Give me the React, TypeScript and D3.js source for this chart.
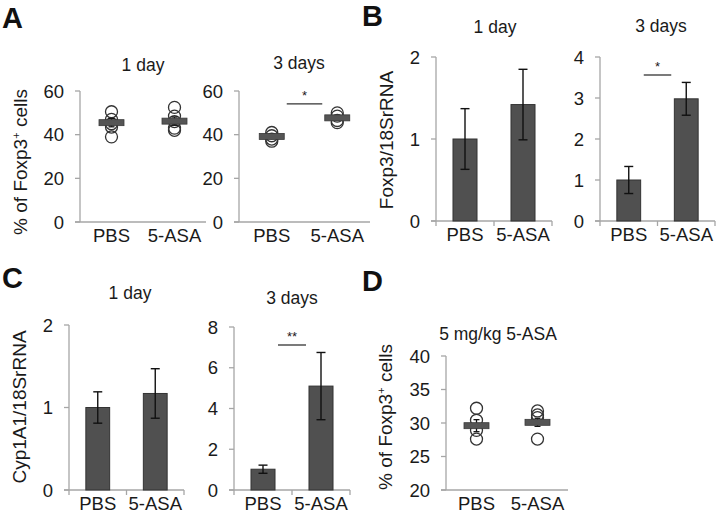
import React from 'react';
import * as d3 from 'd3';

const groups = ['PBS', '5-ASA'];

// Panel A (% Foxp3+ cells)
const a1Points = [[50.5, 47, 45, 43.5, 39], [52.5, 48.5, 46, 43, 42]];
const a1Means = [45.5, 46.2];
const a1Sem = [1.9, 1.9];
const a3Points = [[41, 39.5, 38, 37], [50, 48.5, 46.5, 45.5]];
const a3Means = [39.2, 47.7];
const a3Sem = [0.9, 1.0];
const ticksA = [0, 20, 40, 60];

// Panel B (Foxp3/18SrRNA)
const b1Means = [1.0, 1.42];
const b1Err = [0.37, 0.43];
const b3Means = [1.0, 2.98];
const b3Err = [0.33, 0.4];
const ticksB1 = [0, 1, 2];
const ticksB3 = [0, 1, 2, 3, 4];

// Panel C (Cyp1A1/18SrRNA)
const c1Means = [1.0, 1.17];
const c1Err = [0.19, 0.3];
const c3Means = [1.02, 5.1];
const c3Err = [0.2, 1.65];
const ticksC1 = [0, 1, 2];
const ticksC3 = [0, 2, 4, 6, 8];

// Panel D
const dPoints = [[32.2, 30.4, 28.9, 27.6], [31.8, 31.2, 30.8, 27.6]];
const dMeans = [29.6, 30.1];
const dSem = [0.9, 0.6];
const ticksD = [20, 25, 30, 35, 40];

const FONT = '"Liberation Sans", Arial, Helvetica, sans-serif';
const AXIS = '#a6a6a6';
const TXT = '#1a1a1a';

type PanelProps = {
  x0: number; x1: number; yTop: number; yBot: number;
  ticks: number[]; title: string; titleX: number; titleY: number;
  kind: 'bar' | 'dot';
  means: number[]; err: number[]; points?: number[][];
  sig?: string;
};

function Panel(p: PanelProps) {
  const y = d3.scaleLinear().domain([p.ticks[0], p.ticks[p.ticks.length - 1]]).range([p.yBot, p.yTop]);
  const x = d3.scaleBand<string>().domain(groups).range([p.x0, p.x1]).paddingInner(0.586).paddingOuter(0.293);
  const step = x.step();
  const cx = (g: string) => (x(g) as number) + x.bandwidth() / 2;
  const bw = x.bandwidth();
  const cap = 4.5;
  const boundaries = [p.x0, p.x0 + step, p.x1];
  return (
    <g>
      <line x1={p.x0} x2={p.x0} y1={p.yTop} y2={p.yBot} stroke={AXIS} strokeWidth={1.3} />
      <line x1={p.x0 - 5} x2={p.x1} y1={p.yBot} y2={p.yBot} stroke={AXIS} strokeWidth={1.3} />
      {p.ticks.map((t) => (
        <g key={t}>
          <line x1={p.x0 - 5} x2={p.x0} y1={y(t)} y2={y(t)} stroke={AXIS} strokeWidth={1.3} />
          <text x={p.x0 - 16} y={y(t)} dy="0.36em" textAnchor="end" fontSize={18.5} fill={TXT}>{t}</text>
        </g>
      ))}
      {p.kind === 'bar' && boundaries.map((b, i) => (
        <line key={i} x1={b} x2={b} y1={p.yBot} y2={p.yBot + 5} stroke={AXIS} strokeWidth={1.3} />
      ))}
      {groups.map((g) => (
        <text key={g} x={cx(g)} y={p.yBot + 20} textAnchor="middle" fontSize={18.5} fill={TXT}>{g}</text>
      ))}
      <text x={p.titleX} y={p.titleY} textAnchor="middle" fontSize={17.5} fill={TXT}>{p.title}</text>
      {p.kind === 'bar' && groups.map((g, i) => (
        <g key={g}>
          <rect x={x(g)} y={y(p.means[i])} width={bw} height={p.yBot - y(p.means[i])} fill="#505050" stroke="#333" strokeWidth={1} />
          <line x1={cx(g)} x2={cx(g)} y1={y(p.means[i] - p.err[i])} y2={y(p.means[i] + p.err[i])} stroke="#111" strokeWidth={1.4} />
          <line x1={cx(g) - cap} x2={cx(g) + cap} y1={y(p.means[i] - p.err[i])} y2={y(p.means[i] - p.err[i])} stroke="#111" strokeWidth={1.4} />
          <line x1={cx(g) - cap} x2={cx(g) + cap} y1={y(p.means[i] + p.err[i])} y2={y(p.means[i] + p.err[i])} stroke="#111" strokeWidth={1.4} />
        </g>
      ))}
      {p.kind === 'dot' && groups.map((g, i) => (
        <g key={g}>
          {(p.points as number[][])[i].map((v, j) => (
            <circle key={j} cx={cx(g)} cy={y(v)} r={6} fill="none" stroke="#333" strokeWidth={1.3} />
          ))}
          <line x1={cx(g)} x2={cx(g)} y1={y(p.means[i] - p.err[i])} y2={y(p.means[i] + p.err[i])} stroke="#111" strokeWidth={1.3} />
          <line x1={cx(g) - 3} x2={cx(g) + 3} y1={y(p.means[i] - p.err[i])} y2={y(p.means[i] - p.err[i])} stroke="#111" strokeWidth={1.3} />
          <line x1={cx(g) - 3} x2={cx(g) + 3} y1={y(p.means[i] + p.err[i])} y2={y(p.means[i] + p.err[i])} stroke="#111" strokeWidth={1.3} />
          <rect x={cx(g) - 12.5} y={y(p.means[i]) - 3} width={25} height={6} fill="#555" stroke="#3a3a3a" strokeWidth={0.8} />
        </g>
      ))}
      {p.sig && (() => {
        const top = Math.max(...p.means.map((m, i) => m + p.err[i]), ...(p.points ? p.points.flat() : []));
        const ly = p.kind === 'bar' ? y(p.ticks[p.ticks.length - 1]) + 18 : y(top) - 9;
        const lx0 = cx(groups[0]) + 15;
        const lx1 = cx(groups[1]) - 15;
        return (
          <g>
            <line x1={lx0} x2={lx1} y1={ly} y2={ly} stroke="#333" strokeWidth={1.3} />
            <text x={(lx0 + lx1) / 2} y={ly - 4} textAnchor="middle" fontSize={13} fill={TXT}>{p.sig}</text>
          </g>
        );
      })()}
    </g>
  );
}

function YLabel({ x, y, children }: { x: number; y: number; children: React.ReactNode }) {
  return (
    <text transform={`translate(${x},${y}) rotate(-90)`} textAnchor="middle" fontSize={19} fill={TXT}>{children}</text>
  );
}

export default function App() {
  return (
    <svg width={716} height={516} style={{ position: 'absolute', left: 0, top: 0, background: '#fff' }} fontFamily={FONT}>
      <rect width={716} height={516} fill="#fff" />
      <text x={2} y={28} fontSize={29} fontWeight="bold" fill="#111">A</text>
      <text x={362} y={26} fontSize={29} fontWeight="bold" fill="#111">B</text>
      <text x={2} y={288} fontSize={29} fontWeight="bold" fill="#111">C</text>
      <text x={362} y={291} fontSize={29} fontWeight="bold" fill="#111">D</text>

      <YLabel x={27} y={162}>
        <tspan>% of Foxp3</tspan><tspan dy={-7} fontSize={11}>+</tspan><tspan dy={7}> cells</tspan>
      </YLabel>
      <YLabel x={393} y={140}>Foxp3/18SrRNA</YLabel>
      <YLabel x={26} y={407}>Cyp1A1/18SrRNA</YLabel>
      <YLabel x={392} y={417}>
        <tspan>% of Foxp3</tspan><tspan dy={-7} fontSize={11}>+</tspan><tspan dy={7}> cells</tspan>
      </YLabel>

      <Panel x0={80} x1={206} yTop={91} yBot={222} ticks={ticksA} title="1 day" titleX={143} titleY={71}
        kind="dot" means={a1Means} err={a1Sem} points={a1Points} />
      <Panel x0={239} x1={370} yTop={91} yBot={222} ticks={ticksA} title="3 days" titleX={299} titleY={69}
        kind="dot" means={a3Means} err={a3Sem} points={a3Points} sig="*" />
      <Panel x0={436} x1={552} yTop={57} yBot={221} ticks={ticksB1} title="1 day" titleX={495} titleY={33}
        kind="bar" means={b1Means} err={b1Err} />
      <Panel x0={600} x1={715} yTop={57} yBot={221} ticks={ticksB3} title="3 days" titleX={661} titleY={32}
        kind="bar" means={b3Means} err={b3Err} sig="*" />
      <Panel x0={69} x1={184} yTop={325} yBot={490} ticks={ticksC1} title="1 day" titleX={130} titleY={299}
        kind="bar" means={c1Means} err={c1Err} />
      <Panel x0={234} x1={350} yTop={327} yBot={490} ticks={ticksC3} title="3 days" titleX={292} titleY={304}
        kind="bar" means={c3Means} err={c3Err} sig="**" />
      <Panel x0={446} x1={568} yTop={356} yBot={490} ticks={ticksD} title="5 mg/kg 5-ASA" titleX={498} titleY={340}
        kind="dot" means={dMeans} err={dSem} points={dPoints} />
    </svg>
  );
}
